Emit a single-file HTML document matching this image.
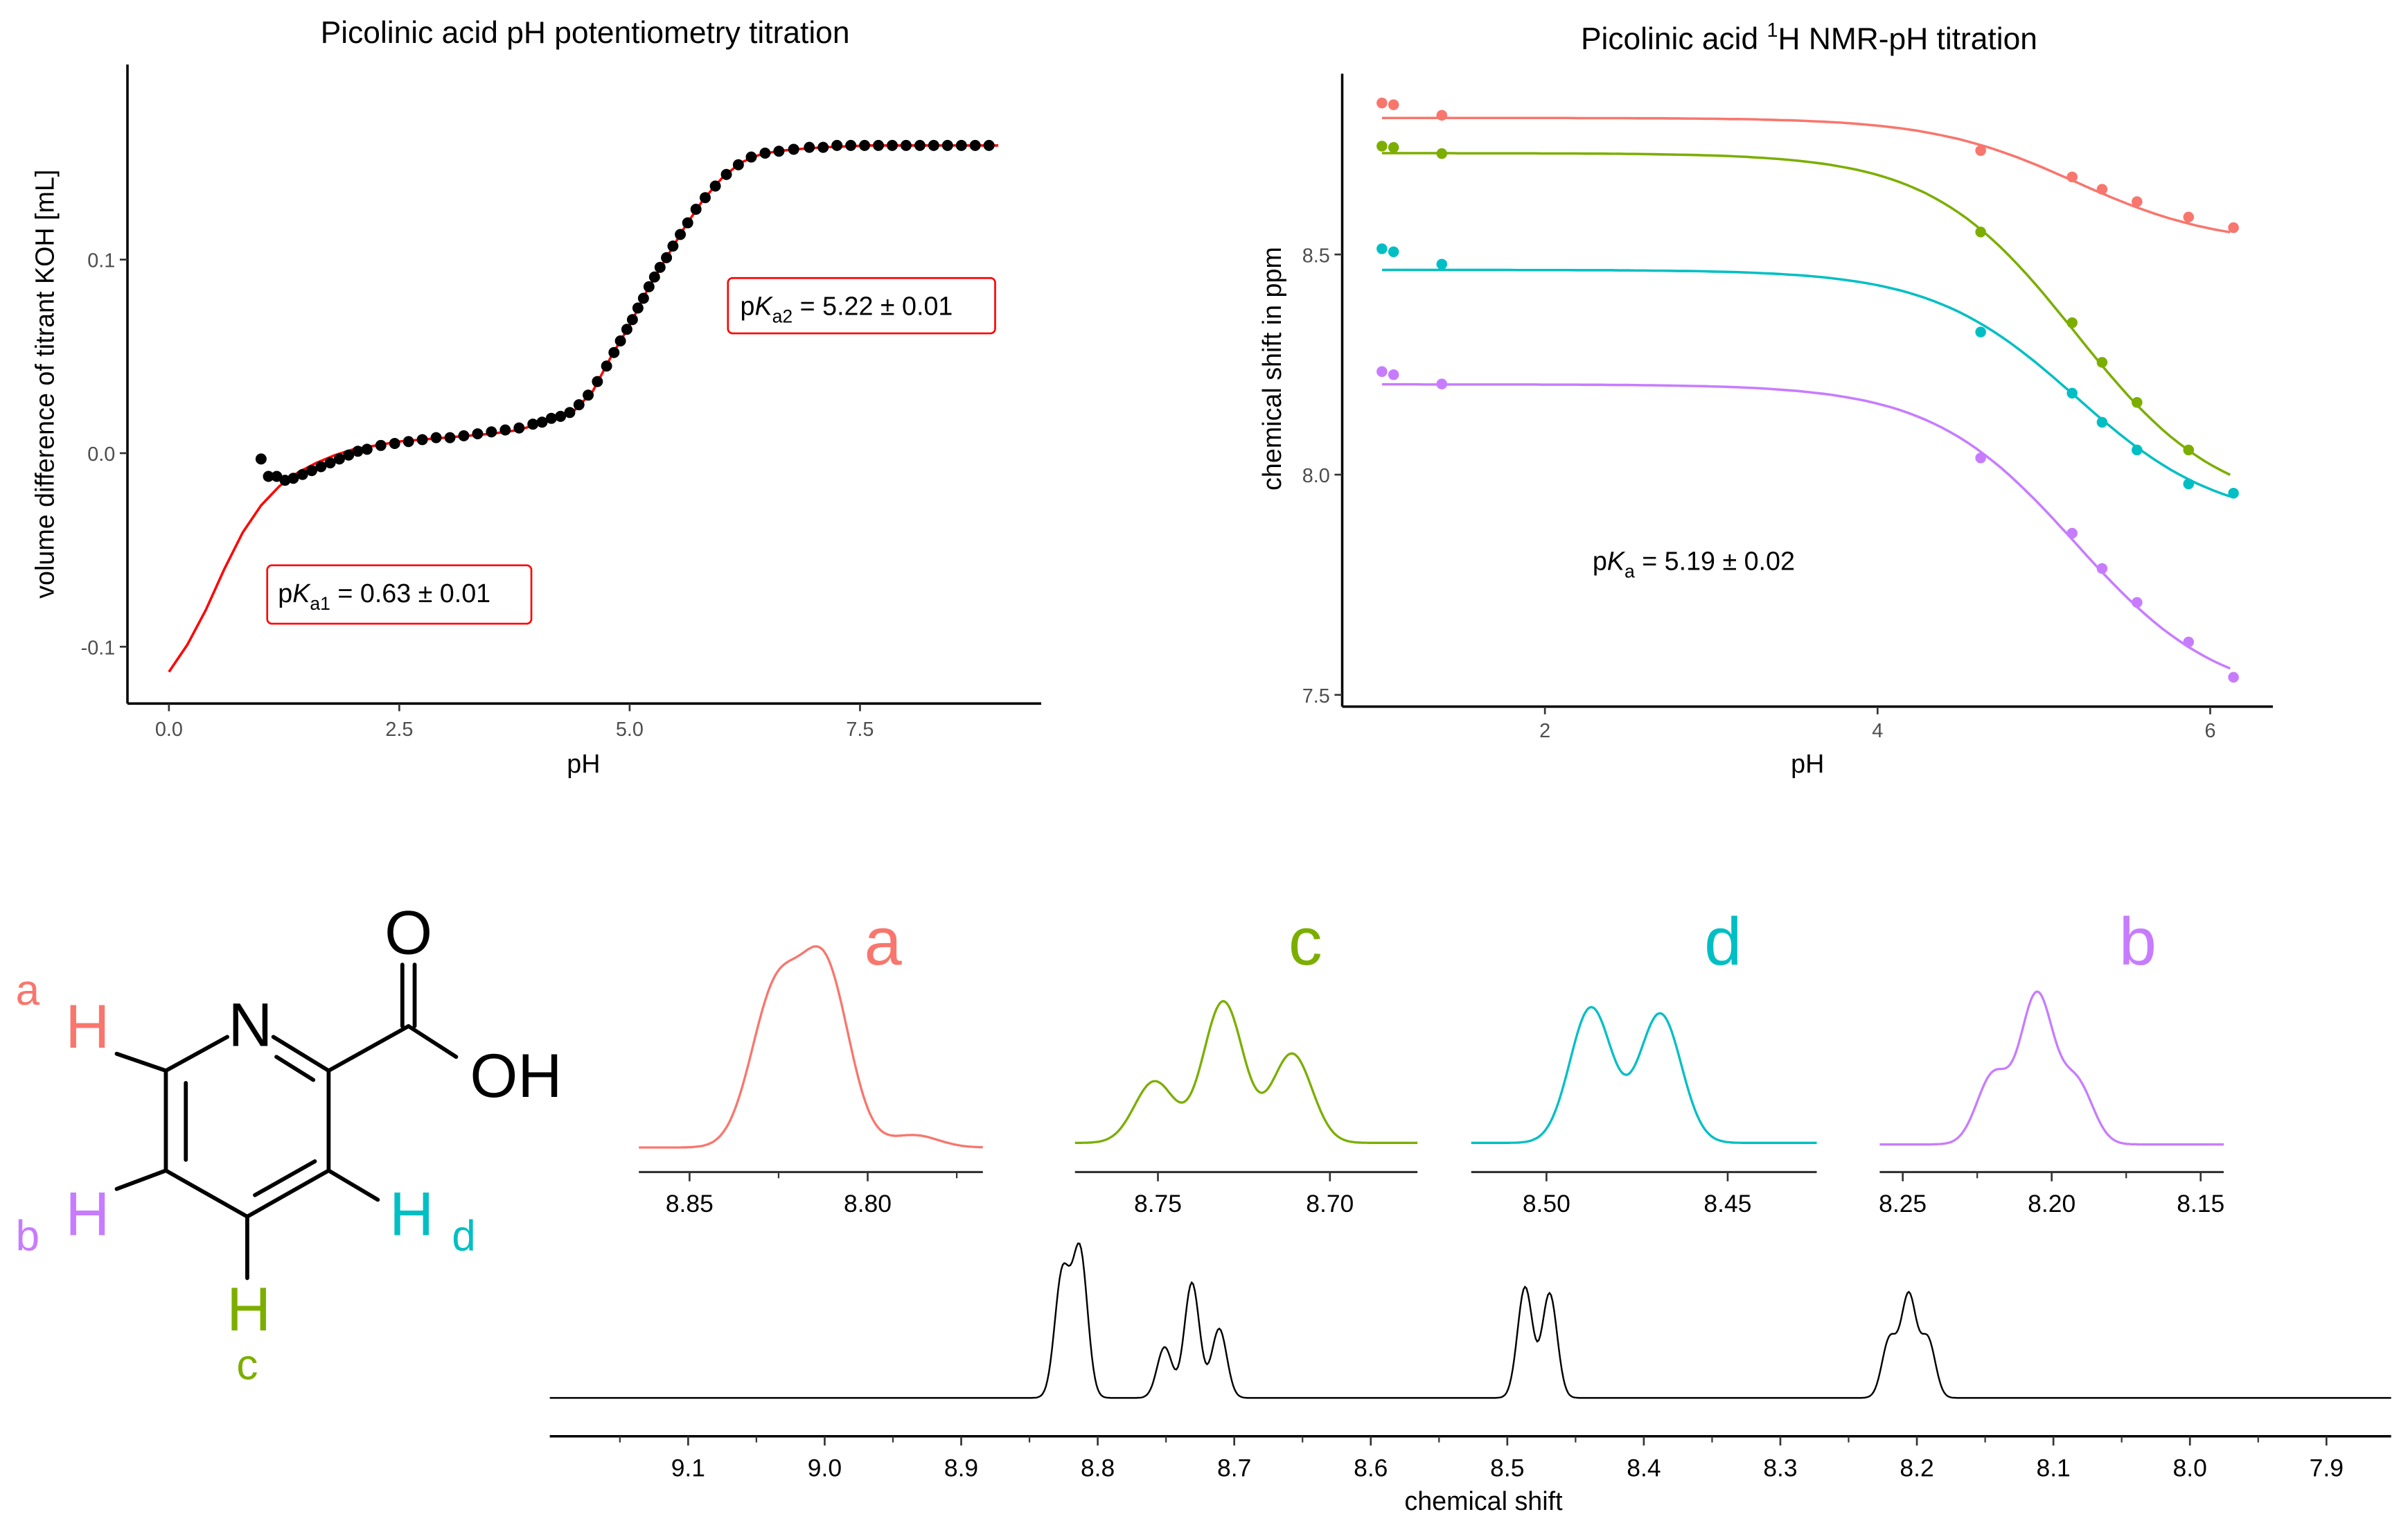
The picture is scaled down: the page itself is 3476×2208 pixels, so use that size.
<!DOCTYPE html>
<html><head><meta charset="utf-8"><style>
html,body{margin:0;padding:0;background:#fff;}
svg{display:block;font-family:"Liberation Sans",sans-serif;}
</style></head><body>
<svg id="fig" width="3476" height="2208" viewBox="0 0 1568 996" preserveAspectRatio="none" xmlns="http://www.w3.org/2000/svg">
<rect width="1568" height="996" fill="#fff"/>
<g id="left">
<text x="381" y="28" font-size="20" text-anchor="middle">Picolinic acid pH potentiometry titration</text>
<line x1="83" y1="42" x2="83" y2="458" stroke="#000" stroke-width="1.6"/>
<line x1="83" y1="458" x2="678" y2="458" stroke="#000" stroke-width="1.6"/>
<text x="380" y="503" font-size="17" text-anchor="middle">pH</text>
<text transform="translate(35,250) rotate(-90)" font-size="17" text-anchor="middle">volume difference of titrant KOH [mL]</text>
<g id="leftTicks"></g>
<path id="leftFit" fill="none" stroke="#ff0000" stroke-width="1.6"/>
<g id="leftPts"></g>
<rect x="474" y="181" width="174" height="36" rx="3" fill="#fff" stroke="#ff0000" stroke-width="1.2"/>
<text x="482" y="205" font-size="17">p<tspan font-style="italic">K</tspan><tspan font-size="12" dy="5">a2</tspan><tspan dy="-5"> = 5.22 ± 0.01</tspan></text>
<rect x="174" y="368" width="172" height="38" rx="3" fill="#fff" stroke="#ff0000" stroke-width="1.2"/>
<text x="181" y="392" font-size="17">p<tspan font-style="italic">K</tspan><tspan font-size="12" dy="5">a1</tspan><tspan dy="-5"> = 0.63 ± 0.01</tspan></text>
</g>
<g id="right">
<text x="1178" y="32" font-size="20" text-anchor="middle">Picolinic acid <tspan font-size="13" dy="-8">1</tspan><tspan dy="8">H NMR-pH titration</tspan></text>
<line x1="874" y1="48" x2="874" y2="460" stroke="#000" stroke-width="1.6"/>
<line x1="874" y1="460" x2="1480" y2="460" stroke="#000" stroke-width="1.6"/>
<text x="1177" y="503" font-size="17" text-anchor="middle">pH</text>
<text transform="translate(834,240) rotate(-90)" font-size="17" text-anchor="middle">chemical shift in ppm</text>
<g id="rightTicks"></g>
<g id="rightSeries"></g>
<text x="1037" y="371" font-size="17">p<tspan font-style="italic">K</tspan><tspan font-size="12" dy="5">a</tspan><tspan dy="-5"> = 5.19 ± 0.02</tspan></text>
</g>
<g id="molecule" stroke="#000" stroke-width="2.6" fill="none" stroke-linecap="round">
<line x1="108" y1="697" x2="148" y2="675"/>
<line x1="178" y1="675" x2="214" y2="697"/>
<line x1="180" y1="688" x2="204" y2="703"/>
<line x1="108" y1="697" x2="108" y2="762"/>
<line x1="121" y1="705" x2="121" y2="755"/>
<line x1="108" y1="762" x2="161" y2="792"/>
<line x1="161" y1="792" x2="214" y2="762"/>
<line x1="166" y1="778" x2="205" y2="756"/>
<line x1="214" y1="762" x2="214" y2="697"/>
<line x1="214" y1="697" x2="266" y2="668"/>
<line x1="262" y1="668" x2="262" y2="628"/>
<line x1="270" y1="668" x2="270" y2="628"/>
<line x1="266" y1="668" x2="297" y2="688"/>
<line x1="76" y1="686" x2="108" y2="697"/>
<line x1="76" y1="774" x2="108" y2="762"/>
<line x1="214" y1="762" x2="246" y2="781"/>
<line x1="161" y1="792" x2="161" y2="832"/>
</g>
<g font-size="40" text-anchor="middle">
<text x="163" y="681">N</text>
<text x="266" y="621">O</text>
<text x="336" y="714">OH</text>
<text x="57" y="682" fill="#F8766D">H</text>
<text x="57" y="804" fill="#C77CFF">H</text>
<text x="162" y="866" fill="#7CAE00">H</text>
<text x="268" y="804" fill="#00BFC4">H</text>
</g>
<g font-size="28" text-anchor="middle">
<text x="18" y="654" fill="#F8766D">a</text>
<text x="18" y="814" fill="#C77CFF">b</text>
<text x="161" y="898" fill="#7CAE00">c</text>
<text x="302" y="814" fill="#00BFC4">d</text>
</g>
<g id="insets"></g>
<g id="mainSpec">
<line x1="358" y1="935" x2="1557" y2="935" stroke="#000" stroke-width="1.6"/>
<text x="966" y="983" font-size="17" text-anchor="middle">chemical shift</text>
</g>
</svg>
<script>
const potPH = [1.0,1.08,1.17,1.26,1.35,1.45,1.55,1.65,1.75,1.85,1.95,2.05,2.15,2.3,2.45,2.6,2.75,2.9,3.05,3.2,3.35,3.5,3.65,3.8,3.95,4.05,4.15,4.25,4.35,4.45,4.55,4.65,4.75,4.83,4.9,4.97,5.03,5.09,5.15,5.21,5.27,5.33,5.4,5.47,5.55,5.63,5.72,5.82,5.93,6.05,6.18,6.32,6.47,6.62,6.78,6.95,7.1,7.25,7.4,7.55,7.7,7.85,8.0,8.15,8.3,8.45,8.6,8.75,8.9];
const potVol = [-0.003,-0.012,-0.012,-0.014,-0.013,-0.011,-0.009,-0.007,-0.005,-0.003,-0.001,0.001,0.002,0.004,0.005,0.006,0.007,0.008,0.008,0.009,0.010,0.011,0.012,0.013,0.015,0.016,0.018,0.019,0.021,0.025,0.030,0.037,0.045,0.052,0.058,0.064,0.069,0.075,0.080,0.086,0.091,0.096,0.101,0.107,0.113,0.119,0.126,0.132,0.138,0.144,0.149,0.153,0.155,0.156,0.157,0.158,0.158,0.159,0.159,0.159,0.159,0.159,0.159,0.159,0.159,0.159,0.159,0.159,0.159];
const fitPH = [0,0.2,0.4,0.6,0.8,1.0,1.2,1.4,1.6,1.8,2.0,2.5,3.0,3.5,3.8,4.0,4.2,4.4,4.6,4.8,5.0,5.2,5.4,5.6,5.8,6.0,6.2,6.4,6.6,6.8,7.1,7.6,8.0,9.0];
const fitVol = [-0.113,-0.099,-0.081,-0.060,-0.041,-0.027,-0.017,-0.010,-0.005,-0.001,0.002,0.006,0.008,0.010,0.012,0.015,0.018,0.022,0.032,0.050,0.066,0.085,0.101,0.117,0.131,0.142,0.150,0.154,0.156,0.157,0.158,0.159,0.159,0.159];
const potXTicks = [0,2.5,5,7.5];
const potXLabels = ["0.0","2.5","5.0","7.5"];
const potYTicks = [-0.1,0,0.1];
const potYLabels = ["-0.1","0.0","0.1"];

const nmrPH = [1.02,1.09,1.38,4.62,5.17,5.35,5.56,5.87,6.14];
const shiftA = [8.844,8.840,8.816,8.736,8.676,8.648,8.620,8.585,8.561];
const shiftC = [8.746,8.743,8.729,8.551,8.345,8.255,8.164,8.056];
const shiftD = [8.513,8.506,8.478,8.324,8.185,8.119,8.056,7.979,7.958];
const shiftB = [8.234,8.227,8.206,8.038,7.867,7.787,7.710,7.620,7.540];
const fitAcid = [8.81,8.73,8.465,8.205];
const fitBase = [8.52,7.914,7.89,7.484];
const nmrPKa = 5.19;
const nmrXTicks = [2,4,6];
const nmrYTicks = [7.5,8.0,8.5];
const nmrYLabels = ["7.5","8.0","8.5"];

const peakShiftA = [8.826,8.812,8.787];
const peakHeightA = [98,115,8];
const peakShiftC = [8.751,8.731,8.711];
const peakHeightC = [40,92,58];
const peakShiftD = [8.4877,8.4686];
const peakHeightD = [88,84];
const peakShiftB = [8.2196,8.205,8.1917];
const peakHeightB = [45,96,40];
const mainPeakShift = [8.826,8.813,8.751,8.731,8.711,8.487,8.469,8.220,8.206,8.192];
const mainPeakHeight = [80,95,33,75,45,72,68,38,66,38];
const mainTicks = [9.1,9.0,8.9,8.8,8.7,8.6,8.5,8.4,8.3,8.2,8.1,8.0,7.9];
const mainTickLabels = ["9.1","9.0","8.9","8.8","8.7","8.6","8.5","8.4","8.3","8.2","8.1","8.0","7.9"];

const NS="http://www.w3.org/2000/svg";
function mk(tag,attrs,parent){const e=document.createElementNS(NS,tag);for(const k in attrs)e.setAttribute(k,attrs[k]);parent.appendChild(e);return e;}

const lx = v => 110 + v*60;
const ly = v => 295 - v*1260;
const lt = document.getElementById('leftTicks');
potXTicks.forEach((t,i)=>{
  const l=mk('line',{x1:lx(t),x2:lx(t),y1:458,y2:463,stroke:'#333','stroke-width':1.2},lt);
  
  
  const s=mk('text',{x:lx(t),y:479,'font-size':13,fill:'#4d4d4d','text-anchor':'middle'},lt);
  s.textContent=potXLabels[i];
  
  
});
potYTicks.forEach((t,i)=>{
  const l=mk('line',{x1:78,x2:83,y1:ly(t),y2:ly(t),stroke:'#333','stroke-width':1.2},lt);
  
  
  const s=mk('text',{x:75,y:ly(t)+5,'font-size':13,fill:'#4d4d4d','text-anchor':'end'},lt);
  s.textContent=potYLabels[i];
  
  
});
const lp=document.getElementById('leftPts');
potPH.forEach((p,i)=>{
  const c=mk('circle',{cx:lx(p),cy:ly(potVol[i]),r:3.6,fill:'#000'},lp);
  
  
});
document.getElementById('leftFit').setAttribute('d', fitPH.map((p,i)=>(i?'L':'M')+lx(p).toFixed(1)+' '+ly(fitVol[i]).toFixed(1)).join(' '));

const rx = v => 1006 + (v-2)*108.3;
const ry = v => 309 - (v-8)*286.7;
const rt=document.getElementById('rightTicks');
nmrXTicks.forEach(t=>{
  const l=mk('line',{x1:rx(t),x2:rx(t),y1:460,y2:465,stroke:'#333','stroke-width':1.2},rt);
  
  
  const s=mk('text',{x:rx(t),y:480,'font-size':13,fill:'#4d4d4d','text-anchor':'middle'},rt);
  s.textContent=String(t);
  
  
});
nmrYTicks.forEach((t,i)=>{
  const l=mk('line',{x1:869,x2:874,y1:ry(t),y2:ry(t),stroke:'#333','stroke-width':1.2},rt);
  
  
  const s=mk('text',{x:866,y:ry(t)+5,'font-size':13,fill:'#4d4d4d','text-anchor':'end'},rt);
  s.textContent=nmrYLabels[i];
  
  
});
const rs=document.getElementById('rightSeries');
const seriesList=[shiftA,shiftC,shiftD,shiftB];
const seriesColors=['#F8766D','#7CAE00','#00BFC4','#C77CFF'];
const seriesNames=['proton-a','proton-c','proton-d','proton-b'];
seriesList.forEach((arr,si)=>{
  let d='';
  for(let k=0;k<=100;k++){
    const p=nmrPH[0]+(6.12-nmrPH[0])*k/100;
    const f=Math.pow(10,p-nmrPKa);const fr=f/(1+f);
    const v=fitAcid[si]+(fitBase[si]-fitAcid[si])*fr;
    d+=(k?'L':'M')+rx(p).toFixed(1)+' '+ry(v).toFixed(1);
  }
  const path=mk('path',{d:d,fill:'none',stroke:seriesColors[si],'stroke-width':1.6},rs);
  
  
  arr.forEach((v,i)=>{
    const c=mk('circle',{cx:rx(nmrPH[i]),cy:ry(v),r:3.5,fill:seriesColors[si]},rs);
    
    
  });
});

function gauss(x,c,s){return Math.exp(-0.5*((x-c)/s)*((x-c)/s));}
const insets=[
 {name:'a',shifts:peakShiftA,heights:peakHeightA,color:'#F8766D',x0:416,x1:640,ref:8.85,refX:449,pp:116,ticks:[8.85,8.80],minor:[8.825,8.775],lab:575,base:747,sig:0.0068},
 {name:'c',shifts:peakShiftC,heights:peakHeightC,color:'#7CAE00',x0:700,x1:923,ref:8.75,refX:754,pp:112,ticks:[8.75,8.70],minor:[],lab:850,base:744,sig:0.0058},
 {name:'d',shifts:peakShiftD,heights:peakHeightD,color:'#00BFC4',x0:958,x1:1183,ref:8.50,refX:1007,pp:118,ticks:[8.50,8.45],minor:[],lab:1122,base:744,sig:0.0058},
 {name:'b',shifts:peakShiftB,heights:peakHeightB,color:'#C77CFF',x0:1224,x1:1448,ref:8.25,refX:1239,pp:97,ticks:[8.25,8.20,8.15],minor:[8.225,8.175],lab:1392,base:745,sig:0.0055}
];
const ig=document.getElementById('insets');
insets.forEach(o=>{
  const g=mk('g',{},ig);
  
  
  const X=v=>o.refX+(o.ref-v)/0.05*o.pp;
  const ax=mk('line',{x1:o.x0,x2:o.x1,y1:763,y2:763,stroke:'#333','stroke-width':1.4},g);
  
  
  o.ticks.forEach(t=>{
    const l=mk('line',{x1:X(t),x2:X(t),y1:763,y2:769,stroke:'#333','stroke-width':1.2},g);
    
    
    const s=mk('text',{x:X(t),y:789,'font-size':16,'text-anchor':'middle'},g);
    s.textContent=t.toFixed(2);
    
    
  });
  o.minor.forEach(t=>{
    const l=mk('line',{x1:X(t),x2:X(t),y1:763,y2:767,stroke:'#333','stroke-width':1},g);
    
    
  });
  const lab=mk('text',{x:o.lab,y:628,'font-size':44,'text-anchor':'middle',fill:o.color},g);
  lab.textContent=o.name;
  
  
  let d='';
  for(let px=o.x0;px<=o.x1;px+=1){
    const v=o.ref-(px-o.refX)/o.pp*0.05;
    let h=0;o.shifts.forEach((c,i)=>h+=o.heights[i]*gauss(v,c,o.sig));
    d+=(px>o.x0?'L':'M')+px+' '+(o.base-h).toFixed(1);
  }
  const p=mk('path',{d:d,fill:'none',stroke:o.color,'stroke-width':1.5},g);
  
  
});

const mg=document.getElementById('mainSpec');
const MX=v=>537+(9.0-v)*889;
mainTicks.forEach((t,i)=>{
  const l=mk('line',{x1:MX(t),x2:MX(t),y1:935,y2:941,stroke:'#333','stroke-width':1.2},mg);
  
  
  const s=mk('text',{x:MX(t),y:961,'font-size':16,'text-anchor':'middle'},mg);
  s.textContent=mainTickLabels[i];
  
  
  const m=mk('line',{x1:MX(t+0.05),x2:MX(t+0.05),y1:935,y2:939,stroke:'#333','stroke-width':1},mg);
  
  
});
let md='';
for(let px=358;px<=1557;px+=1){
  const v=9.0-(px-537)/889;
  let h=0;mainPeakShift.forEach((c,i)=>h+=mainPeakHeight[i]*gauss(v,c,0.0055));
  md+=(px>358?'L':'M')+px+' '+(910-h).toFixed(1);
}
const mp=mk('path',{d:md,fill:'none',stroke:'#000','stroke-width':1.1},mg);


</script>
</body></html>
